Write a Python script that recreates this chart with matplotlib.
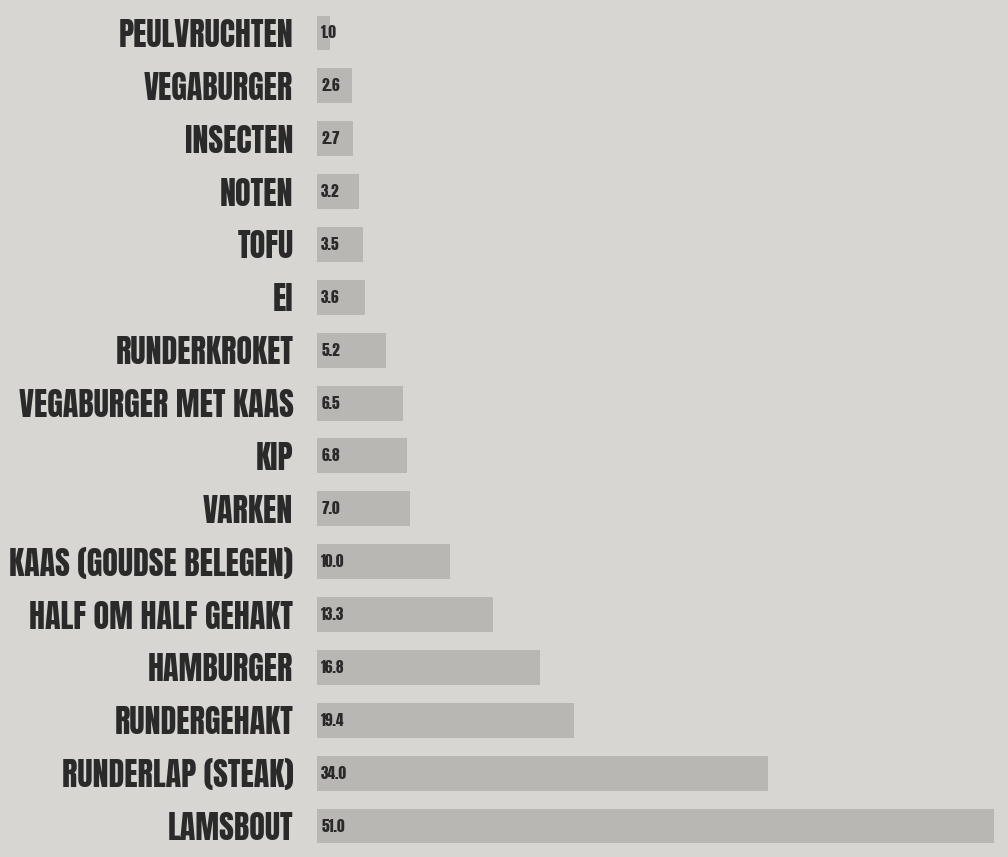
import matplotlib
matplotlib.use("Agg")
import matplotlib.pyplot as plt
from matplotlib import font_manager
import numpy as np

# data (kg CO2 per kg product)
labels = ["PEULVRUCHTEN", "VEGABURGER", "INSECTEN", "NOTEN", "TOFU", "EI",
          "RUNDERKROKET", "VEGABURGER MET KAAS", "KIP", "VARKEN",
          "KAAS (GOUDSE BELEGEN)", "HALF OM HALF GEHAKT", "HAMBURGER",
          "RUNDERGEHAKT", "RUNDERLAP (STEAK)", "LAMSBOUT"]
values = [1.0, 2.6, 2.7, 3.2, 3.5, 3.6, 5.2, 6.5, 6.8, 7.0,
          10.0, 13.3, 16.8, 19.4, 34.0, 51.0]

bg = "#d8d6d3"
bar_color = "#b9b7b4"
ink = "#2a2a2a"


def find_font():
    # smalle vette letter zoals in de krant
    wanted = ["Anton-Regular", "SairaExtraCondensed-ExtraBold",
              "BarlowCondensed-ExtraBold", "LiberationSansNarrow-Bold"]
    files = [f.fname for f in font_manager.fontManager.ttflist]
    for w in wanted:
        for fn in files:
            if fn.split("/")[-1].startswith(w + "."):
                return fn
    return None


fpath = find_font()

fig = plt.figure(figsize=(10.08, 8.57), dpi=100)
fig.patch.set_facecolor(bg)
ax = fig.add_axes([317 / 1008, 0, (1008 - 317) / 1008, 1])
ax.set_facecolor(bg)

y = np.arange(len(labels))
ax.barh(y, values, height=0.66, color=bar_color, edgecolor="none")

ax.set_xlim(0, (1008 - 317) / 13.27)
ax.set_ylim(15 + 31 / 52.87, -33 / 52.87)

if fpath:
    lab_font = font_manager.FontProperties(fname=fpath, size=23)
    val_font = font_manager.FontProperties(fname=fpath, size=11)
else:
    lab_font = font_manager.FontProperties(family="DejaVu Sans", weight="bold",
                                           stretch="condensed", size=15)
    val_font = font_manager.FontProperties(family="DejaVu Sans", weight="bold",
                                           stretch="condensed", size=9)

ax.set_yticks(y)
ax.set_yticklabels(labels, fontproperties=lab_font, color=ink)
ax.tick_params(axis="y", length=0, pad=17)
ax.set_xticks([])
for s in ax.spines.values():
    s.set_visible(False)

for i, v in enumerate(values):
    ax.annotate(f"{v:.1f}", xy=(0, i), xytext=(3, 0), textcoords="offset points",
                ha="left", va="center", fontproperties=val_font, color=ink)

fig.savefig("out.png", dpi=100, facecolor=bg)
